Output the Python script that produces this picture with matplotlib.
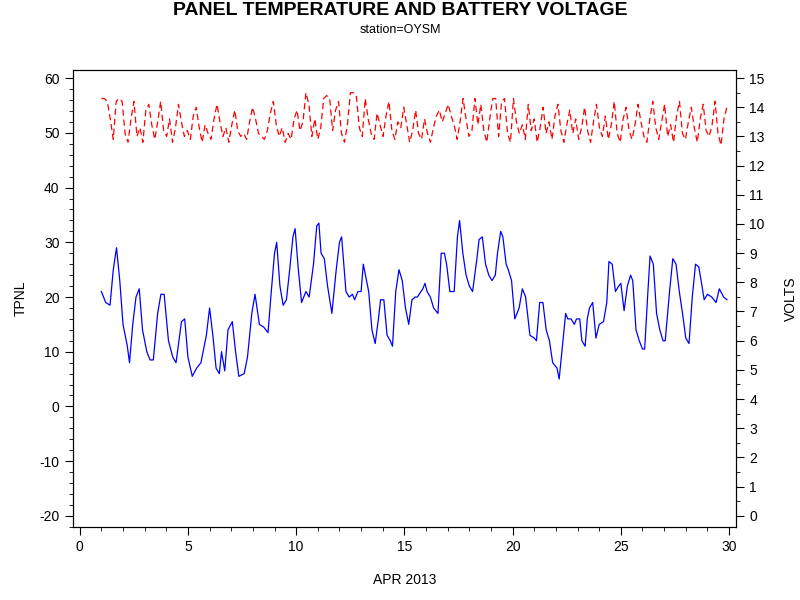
import matplotlib
matplotlib.use("Agg")
import matplotlib.pyplot as plt
from matplotlib.ticker import MultipleLocator

plt.rcParams["font.family"] = "Liberation Sans"
plt.rcParams["axes.unicode_minus"] = False

temp_day = [1.0,1.2,1.4,1.55,1.7,1.85,2.0,2.2,2.3,2.45,2.6,2.75,2.9,3.1,3.25,3.4,3.6,3.75,3.9,4.1,4.3,4.45,4.55,4.7,4.85,5.0,5.2,5.4,5.6,5.85,6.0,6.15,6.3,6.45,6.55,6.7,6.85,7.05,7.2,7.35,7.6,7.75,7.95,8.1,8.3,8.5,8.7,8.85,9.0,9.1,9.25,9.4,9.55,9.7,9.85,9.95,10.1,10.25,10.45,10.6,10.8,10.95,11.05,11.15,11.3,11.45,11.65,11.85,12.0,12.1,12.3,12.45,12.6,12.7,12.85,13.0,13.1,13.2,13.35,13.5,13.65,13.8,13.9,14.05,14.2,14.35,14.45,14.6,14.75,14.9,15.05,15.2,15.35,15.5,15.6,15.85,15.95,16.05,16.2,16.35,16.45,16.55,16.7,16.85,16.95,17.1,17.3,17.45,17.55,17.7,17.85,18.0,18.15,18.35,18.45,18.6,18.75,18.9,19.05,19.2,19.3,19.45,19.55,19.7,19.8,19.95,20.1,20.3,20.45,20.6,20.8,21.0,21.1,21.25,21.4,21.55,21.7,21.85,22.05,22.15,22.3,22.45,22.55,22.7,22.85,22.95,23.1,23.2,23.35,23.45,23.55,23.7,23.85,24.0,24.2,24.35,24.45,24.6,24.75,24.9,25.0,25.15,25.3,25.45,25.55,25.7,25.85,26.0,26.1,26.25,26.35,26.5,26.65,26.8,26.95,27.05,27.25,27.4,27.55,27.7,27.85,28.0,28.15,28.3,28.45,28.6,28.75,28.85,29.0,29.2,29.4,29.55,29.75,29.9]
temp_val = [21,19,18.5,25,29,23,15,11,8,15,20,21.5,14,10,8.5,8.5,17,20.5,20.5,12,9,8,11,15.5,16,9,5.5,7,8,13,18,13,7,6,10,6.5,14,15.5,10,5.5,6,9,17,20.5,15,14.5,13.5,21,28,30,22,18.5,19.5,25,31,32.5,25,19,21,20,26,33,33.5,28,27,22,17,25,30,31,21,20,20.5,19.5,21,21,26,24,21,14,11.5,16,19.5,19.5,13,12,11,21,25,23,18,15,19.5,20,20,21.5,22.5,21,20,18,17.5,17,28,28,26,21,21,31,34,28,24,22,21,27,30.5,31,26,24,23,24,28,32,31,26,25,23,16,18,21.5,20,13,12.5,12,19,19,14,12,8,7,5,11,17,16,16,15,16,16,12,11,16,18,19,12.5,15,15.5,19,26.5,26,21,22,22.5,17.5,22,24,23,14,12,10.5,10.5,21,27.5,26,17,14,12,12,21,27,26,21,17,12.5,11.5,20,26,25.5,22,19.5,20.5,20,19,21.5,20,19.5]

volt_val = [14.3,14.3,14.2,13.6,12.9,14.2,14.3,14.2,13.1,12.8,13.6,14.2,13.0,13.3,12.8,13.9,14.1,13.4,12.9,13.5,14.2,13.2,13.0,13.6,12.8,13.3,14.1,13.5,13.0,13.2,12.9,13.7,14.0,13.3,12.8,13.4,13.1,12.9,13.6,14.1,13.5,13.0,13.3,12.8,13.4,13.9,13.2,13.0,13.1,12.9,13.5,14.0,13.6,13.1,13.0,12.9,13.2,13.8,14.2,13.4,13.0,13.3,12.8,13.1,12.9,13.6,13.9,13.2,13.5,14.5,14.1,13.0,13.6,12.9,13.3,14.3,14.4,14.3,13.2,13.9,14.2,13.1,12.8,13.4,14.5,14.5,14.4,13.3,13.0,14.3,13.6,13.1,12.9,13.8,13.4,13.0,13.7,14.2,13.2,12.9,13.5,13.3,14.0,13.4,12.8,13.2,13.9,13.1,12.9,13.6,13.1,12.8,13.3,13.7,13.9,13.5,13.8,14.1,13.7,13.4,12.9,13.5,14.3,13.6,13.0,13.2,14.3,13.4,14.1,13.2,12.8,13.6,14.3,14.3,13.0,14.2,14.3,13.1,12.8,14.3,13.5,13.1,13.4,12.9,14.1,13.2,13.6,12.8,13.3,14.0,13.1,13.5,12.9,13.7,14.1,13.2,12.8,13.4,13.9,13.1,13.6,12.9,13.3,14.0,13.2,12.8,13.5,14.1,13.3,13.0,13.7,12.9,13.4,14.2,13.1,12.8,13.6,14.0,13.2,12.9,13.4,14.1,13.5,13.0,12.8,13.6,14.2,13.3,12.9,13.5,14.1,13.0,13.4,12.8,13.7,14.2,13.1,12.9,13.5,14.0,13.3,12.8,13.6,14.1,13.2,13.0,13.4,14.2,13.1,12.7,13.6,14.0]
volt_day = [1.0 + i * (29.9 - 1.0) / (len(volt_val) - 1) for i in range(len(volt_val))]

fig = plt.figure(figsize=(8, 6), dpi=100)
ax = fig.add_axes([0.091, 0.122, 0.829, 0.761])
ax2 = ax.twinx()

ax.plot(temp_day, temp_val, color="blue", lw=0.9)
ax2.plot(volt_day, volt_val, color="red", lw=0.9, linestyle=(0, (5, 3)))

ax.set_xlim(-0.32, 30.32)
ax.set_ylim(-22.0, 61.46)
ax2.set_ylim(-0.38, 15.27)
ax.xaxis.set_major_locator(MultipleLocator(5))
ax.xaxis.set_minor_locator(MultipleLocator(1))
ax.yaxis.set_major_locator(MultipleLocator(10))
ax.yaxis.set_minor_locator(MultipleLocator(2))
ax2.yaxis.set_major_locator(MultipleLocator(1))
ax2.yaxis.set_minor_locator(MultipleLocator(0.5))
for a in (ax, ax2):
    a.tick_params(which="both", direction="out", labelsize=10)
    a.tick_params(which="major", length=6)
    a.tick_params(which="minor", length=3)

ax.set_ylabel("TPNL", fontsize=10, labelpad=8)
ax2.set_ylabel("VOLTS", fontsize=10, labelpad=14)
ax.set_xlabel("APR 2013", fontsize=10, labelpad=14)

fig.text(0.5, 0.982, "PANEL TEMPERATURE AND BATTERY VOLTAGE", ha="center", va="center",
         fontsize=14, fontweight="bold")
fig.text(0.5, 0.950, "station=OYSM", ha="center", va="center", fontsize=9)

fig.savefig("out.png", dpi=100)
